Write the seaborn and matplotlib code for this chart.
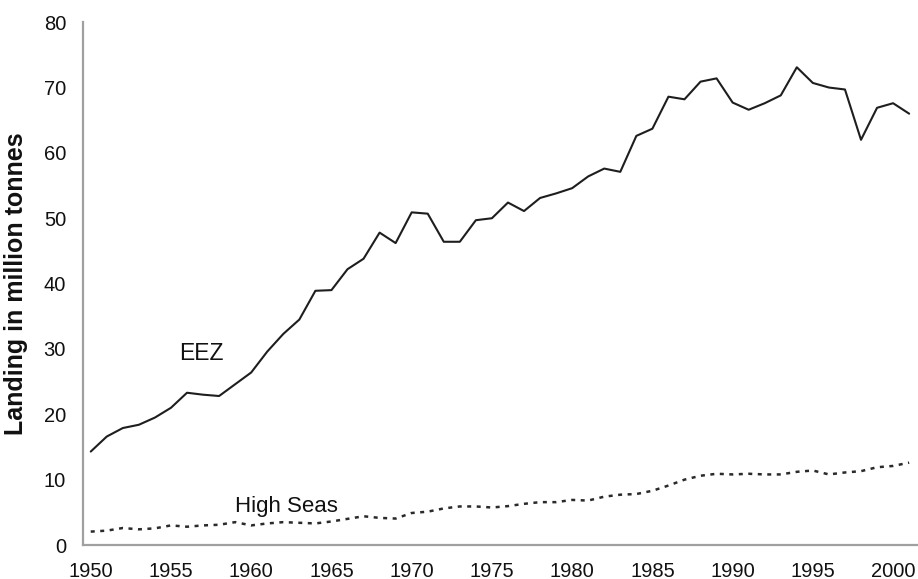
import numpy as np
import pandas as pd
import seaborn as sns
import matplotlib.pyplot as plt
from matplotlib.ticker import MultipleLocator

#---------------------Datos------------------
years = list(range(1950, 2002))

eez = [14.3, 16.6, 17.9, 18.4, 19.5, 21.0, 23.3, 23.0, 22.8, 24.6,
       26.4, 29.6, 32.3, 34.5, 38.9, 39.0, 42.2, 43.8, 47.8, 46.2,
       50.9, 50.7, 46.4, 46.4, 49.7, 50.0, 52.4, 51.1, 53.1, 53.8,
       54.6, 56.4, 57.6, 57.1, 62.6, 63.7, 68.6, 68.2, 70.9, 71.4,
       67.7, 66.6, 67.6, 68.8, 73.1, 70.7, 70.0, 69.7, 62.0, 66.9,
       67.6, 66.0]

high_seas = [2.05, 2.2, 2.6, 2.4, 2.55, 3.0, 2.8, 3.0, 3.1, 3.5,
             3.0, 3.3, 3.5, 3.4, 3.3, 3.6, 4.0, 4.4, 4.15, 4.05,
             4.9, 5.1, 5.6, 5.9, 5.9, 5.74, 5.95, 6.3, 6.56, 6.56,
             6.9, 6.8, 7.4, 7.7, 7.8, 8.3, 9.1, 10.0, 10.6, 10.9,
             10.8, 10.9, 10.8, 10.8, 11.2, 11.4, 10.8, 11.1, 11.3, 11.9,
             12.1, 12.6]

df = pd.DataFrame({'Año': years, 'EEZ': eez, 'High Seas': high_seas})

#---------------------Estilo------------------
sns.set_theme(style='white')
plt.rcParams['font.family'] = ['Liberation Sans', 'DejaVu Sans']

fig = plt.figure(figsize=(9.18, 5.79), dpi=100)
ax = fig.add_axes([0.0901, 0.0587, 0.909, 0.903])

sns.lineplot(data=df, x='Año', y='EEZ', ax=ax, color='#1e1e1e', linewidth=1.5)
sns.lineplot(data=df, x='Año', y='High Seas', ax=ax, color='#2a2a2a',
             linewidth=1.8, linestyle=(0, (1.6, 2.2)))

ax.set_xlim(1949.5, 2001.5)
ax.set_ylim(0, 80)

# ejes tipo Excel
ax.xaxis.set_major_locator(MultipleLocator(5))
ax.xaxis.set_minor_locator(MultipleLocator(1, offset=0.5))
ax.yaxis.set_major_locator(MultipleLocator(10))
ax.tick_params(axis='x', which='major', length=0, labelsize=14.5, pad=12,
               labelcolor='#111111')
ax.tick_params(axis='x', which='minor', direction='in', length=3.5,
               width=1, color='#8c8c8c')
ax.tick_params(axis='y', which='major', direction='in', length=4.5,
               width=1, color='#8c8c8c', labelsize=14.5, pad=12,
               labelcolor='#111111')

for lado in ['top', 'right']:
    ax.spines[lado].set_visible(False)
for lado in ['left', 'bottom']:
    ax.spines[lado].set_color('#a0a0a0')
    ax.spines[lado].set_linewidth(1.6)

ax.set_xlabel('')
ax.set_ylabel('Landing in million tonnes', fontsize=18, fontweight='bold',
              color='#111111')
ax.yaxis.set_label_coords(-0.066, 0.5)

ax.text(1956.9, 28.35, 'EEZ', fontsize=16.5, ha='center', va='baseline',
        color='#111111')
ax.text(1962.2, 5.1, 'High Seas', fontsize=16, ha='center', va='baseline',
        color='#111111')

plt.savefig('out.png', dpi=100)
